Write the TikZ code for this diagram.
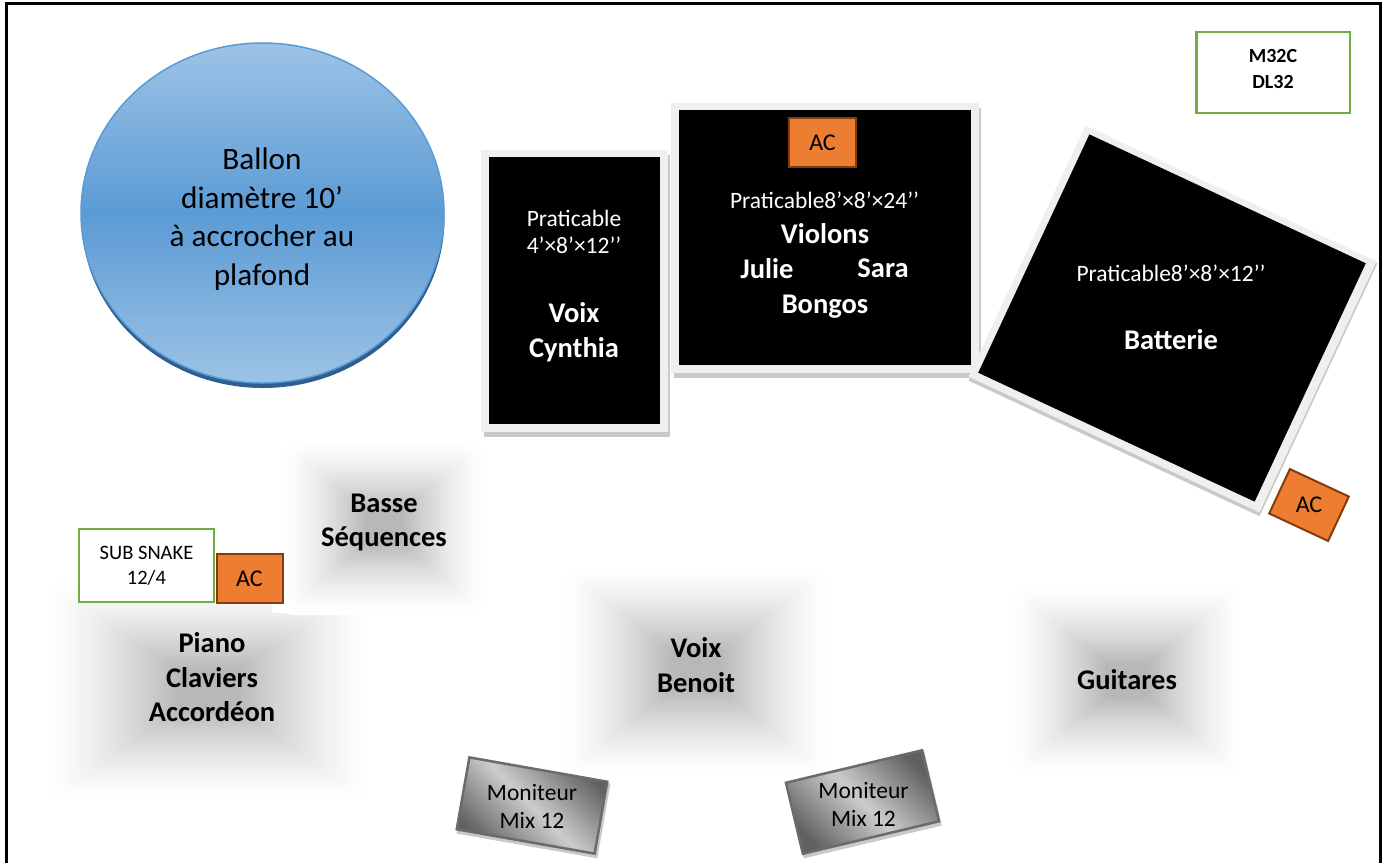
\documentclass[tikz,border=0pt]{standalone}
\usepackage{fontspec}
\setmainfont{Carlito}
\usetikzlibrary{calc,shapes.geometric}
\definecolor{frameg}{HTML}{EFEFEF}
\definecolor{shadg}{HTML}{C9C9C9}
\definecolor{acfill}{HTML}{ED7D31}
\definecolor{acline}{HTML}{843C0C}
\definecolor{snakeg}{HTML}{70AD47}
\definecolor{ballA}{HTML}{9DC3E6}
\definecolor{ballB}{HTML}{5B9BD5}
\definecolor{ballS}{HTML}{2E5F8F}
\tikzset{
 every node/.style={align=center,inner sep=0pt,outer sep=0pt},
 framebox/.style={fill=frameg,draw=none},
 shadowbox/.style={fill=shadg,draw=none},
 acbox/.style={fill=acfill,draw=acline,line width=2pt,font=\fontsize{24}{28}\selectfont},
 snakebox/.style={fill=white,draw=snakeg,line width=2.5pt},
 bigtxt/.style={font=\fontsize{31.2}{38.5}\selectfont},
 ptxt/.style={text=white,font=\fontsize{23.5}{27}\selectfont},
 wtxt/.style={text=white,font=\fontsize{28.5}{35}\selectfont\bfseries},
 btxt/.style={text=black,font=\fontsize{28.5}{34.5}\selectfont\bfseries},
 montxt/.style={font=\fontsize{23.5}{28}\selectfont},
 monbox/.style={draw=black!58,line width=2.5pt,left color=black!62,right color=black!62,middle color=black!20},
 monshadow/.style={fill=shadg,draw=none},
}
% soft rectangular glow: cx, cy, half width, half height
\newcommand{\softglow}[4]{%
 \foreach \k in {1,...,50}{%
  \pgfmathsetmacro{\f}{1-(\k-1)/50}
  \pgfmathsetmacro{\t}{min(1,(1-\f)/0.82)}
  \pgfmathsetmacro{\sh}{100-28*pow(\t,1.45)}
  \pgfmathsetmacro{\rr}{0.12*#4*\f}
  \fill[color=white!\sh!black,rounded corners=\rr pt]
    ({#1-#3*\f},{#2-#4*\f}) rectangle ({#1+#3*\f},{#2+#4*\f});
 }%
}
\begin{document}
\begin{tikzpicture}[x=1pt,y=-1pt,line join=miter]
\useasboundingbox (0,0) rectangle (1386,863);
\fill[white] (0,0) rectangle (1386,863);

% glows
\softglow{208}{690}{166}{112}
\fill[white] (272,440) rectangle (482,613);
\softglow{384}{527}{102}{88}
\softglow{696}{671}{136}{107}
\softglow{1127}{680}{118}{95}

% outer border
\coordinate (bTL) at (6.5,3);
\coordinate (bTR) at (1380.5,3);
\coordinate (bBL) at (6.5,863);
\coordinate (bBR) at (1380.5,863);
\draw[line width=3pt,black] (bBL) -- (bTL) -- (bTR) -- (bBR);

% balloon
\node[ellipse,minimum width=363pt,minimum height=340pt,fill=ballS] (ballshadow) at (263,218) {};
\node[ellipse,minimum width=363pt,minimum height=340pt,draw=ballB,line width=1.5pt,
  top color=ballA,bottom color=ballA,middle color=ballB,shading=axis] (ball) at (262.5,213) {};
\node[bigtxt] (balltxt) at (262,219) {Ballon\\diamètre 10’\\à accrocher au\\plafond};

% Voix platform
\node[shadowbox,minimum width=186pt,minimum height=282pt] (vs) at (577,295.5) {};
\node[framebox,minimum width=187pt,minimum height=282pt] (vf) at (574.5,291) {};
\node[fill=black,minimum width=171pt,minimum height=267pt] (vb) at (574.5,290.5) {};
\node[ptxt] (vp) at (574,232) {Praticable\\4’×8’×12’’};
\node[wtxt] (vt) at (574,332.5) {Voix\\Cynthia};

% Violons platform
\node[shadowbox,minimum width=307pt,minimum height=270pt] (os) at (827.5,243) {};
\node[framebox,minimum width=308pt,minimum height=270pt] (of) at (825,238) {};
\node[fill=black,minimum width=292pt,minimum height=255pt] (ob) at (825,237.5) {};
\node[acbox,minimum width=67pt,minimum height=49pt] (oac) at (822.5,142.5) {AC};
\node[ptxt] (op) at (824.5,200) {Praticable8’×8’×24’’};
\node[wtxt] (ot1) at (825,233.5) {Violons};
\node[wtxt] (ot2) at (767,268.5) {Julie};
\node[wtxt] (ot3) at (883,268.5) {Sara};
\node[wtxt] (ot4) at (825,306.5) {Bongos};

% Batterie platform
\node[shadowbox,rotate=-25,minimum width=321pt,minimum height=279pt] (bs) at (1173,322) {};
\node[framebox,rotate=-25,minimum width=321pt,minimum height=277pt] (bf) at (1172.5,319) {};
\node[fill=black,rotate=-25,minimum width=305pt,minimum height=263pt] (bb) at (1172,318) {};
\node[ptxt] (bp) at (1171,273) {Praticable8’×8’×12’’};
\node[wtxt] (bt) at (1171,340) {Batterie};
\node[acbox,rotate=-25,minimum width=65pt,minimum height=49pt] (bac) at (1309,505) {};
\node[font=\fontsize{24}{28}\selectfont] (bactxt) at (1309,505) {AC};

% top right box
\node[snakebox,minimum width=153.5pt,minimum height=81pt] (desk) at (1273,72.5) {};
\node[font=\fontsize{20}{26}\selectfont\bfseries] (desktxt) at (1273,69.5) {M32C\\DL32};

% sub snake and AC
\node[snakebox,minimum width=135pt,minimum height=73pt,font=\fontsize{20.5}{25}\selectfont] (sub) at (146.5,565.5) {SUB SNAKE\\12/4};
\node[acbox,minimum width=66pt,minimum height=49pt] (sac) at (249.5,578.5) {AC};

% station labels
\node[btxt] (basse) at (384,522.5) {Basse\\Séquences};
\node[btxt] (piano) at (212,677.5) {Piano\\Claviers\\Accordéon};
\node[btxt] (benoit) at (696,665) {Voix\\Benoit};
\node[btxt] (guit) at (1127,679.5) {Guitares};

% monitors
\node[monshadow,rotate=-10,minimum width=143pt,minimum height=76pt] (m1s) at (533.5,808.5) {};
\node[monbox,rotate=-10,shading angle=-45,minimum width=140pt,minimum height=73pt] (m1) at (532,805.5) {};
\node[montxt] (m1t) at (532,806.5) {Moniteur\\Mix 12};
\node[monshadow,rotate=13.4,minimum width=142pt,minimum height=76pt] (m2s) at (864,805) {};
\node[monbox,rotate=13.4,shading angle=-45,minimum width=140pt,minimum height=73pt] (m2) at (862.5,802) {};
\node[montxt] (m2t) at (863.5,804) {Moniteur\\Mix 12};
\end{tikzpicture}
\end{document}
